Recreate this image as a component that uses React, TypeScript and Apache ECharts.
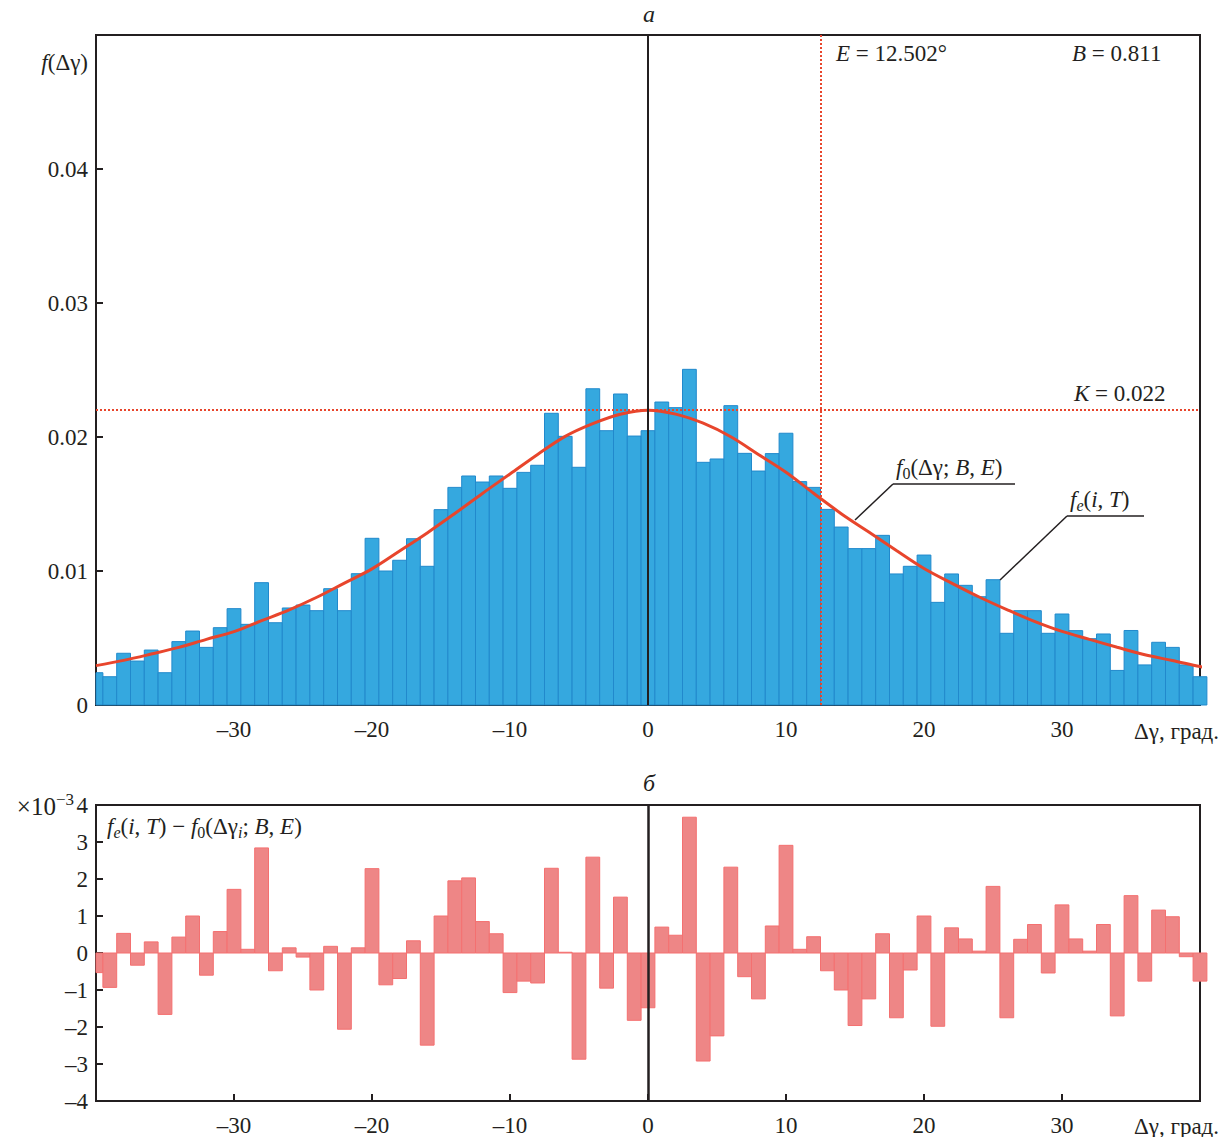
import React, { useEffect, useRef } from "react";
import * as echarts from "echarts";

const FONT = '"Liberation Serif", "Times New Roman", serif';
const INK = "#231f20";
const RED = "#e8452c";
const BLUE = "#35a8df";
const BLUE_EDGE = "#2189cc";
const PINK = "#ee8686";
const PINK_EDGE = "#f47070";

const bins = [
  -40, -39, -38, -37, -36, -35, -34, -33, -32, -31, -30, -29, -28, -27, -26, -25, -24, -23, -22, -21,
  -20, -19, -18, -17, -16, -15, -14, -13, -12, -11, -10, -9, -8, -7, -6, -5, -4, -3, -2, -1,
  0, 1, 2, 3, 4, 5, 6, 7, 8, 9, 10, 11, 12, 13, 14, 15, 16, 17, 18, 19,
  20, 21, 22, 23, 24, 25, 26, 27, 28, 29, 30, 31, 32, 33, 34, 35, 36, 37, 38, 39, 40,
];

const histValues = [
  0.00241, 0.00211, 0.00386, 0.00328, 0.0041, 0.00241, 0.00473, 0.00552, 0.0043, 0.00577,
  0.00719, 0.00602, 0.00913, 0.00614, 0.00724, 0.00746, 0.00704, 0.00868, 0.00704, 0.0098,
  0.01244, 0.0100, 0.0108, 0.01241, 0.01035, 0.01458, 0.01624, 0.01709, 0.01664, 0.01709,
  0.01617, 0.01736, 0.01789, 0.02177, 0.02005, 0.01774, 0.0236, 0.02047, 0.02321, 0.02007,
  0.02047, 0.02261, 0.02219, 0.02505, 0.01811, 0.01836, 0.02234, 0.01878, 0.01746, 0.01876,
  0.02028, 0.01667, 0.01624, 0.0146, 0.01328, 0.01167, 0.01167, 0.01266, 0.00978, 0.01035,
  0.01119, 0.00766, 0.00978, 0.00893, 0.00808, 0.00935, 0.00535, 0.00704, 0.00704, 0.00535,
  0.00679, 0.00555, 0.00495, 0.0053, 0.00258, 0.00556, 0.00299, 0.00468, 0.0043, 0.00299, 0.00211,
];

// residuals, units of 1e-3
const residValues = [
  -0.53, -0.93, 0.53, -0.33, 0.3, -1.66, 0.43, 1.0, -0.6, 0.58,
  1.72, 0.1, 2.84, -0.48, 0.14, -0.11, -1.0, 0.18, -2.06, 0.14,
  2.28, -0.86, -0.69, 0.33, -2.49, 1.0, 1.95, 2.03, 0.85, 0.52,
  -1.07, -0.76, -0.81, 2.29, 0.02, -2.87, 2.59, -0.95, 1.51, -1.82,
  -1.48, 0.7, 0.48, 3.67, -2.92, -2.24, 2.32, -0.64, -1.24, 0.73,
  2.91, 0.1, 0.44, -0.48, -1.0, -1.96, -1.24, 0.52, -1.75, -0.46,
  1.0, -1.98, 0.68, 0.38, 0.05, 1.8, -1.75, 0.37, 0.77, -0.54,
  1.3, 0.38, 0.05, 0.77, -1.7, 1.55, -0.76, 1.16, 0.98, -0.1, -0.76,
];

const curveX = [
  -40, -38, -36, -34, -32, -30, -28, -26, -24, -22, -20, -18, -16, -14, -12, -10, -8, -6, -4, -2,
  0, 2, 4, 6, 8, 10, 12, 14, 16, 18, 20, 22, 24, 26, 28, 30, 32, 34, 36, 38, 40, 40.6,
];
const curveY = [
  0.00294, 0.00333, 0.0038, 0.0043, 0.0049, 0.00547, 0.00629, 0.0071, 0.00804, 0.0091,
  0.01016, 0.01149, 0.01284, 0.01429, 0.01579, 0.01724, 0.0187, 0.02005, 0.021, 0.0217,
  0.022, 0.02171, 0.02103, 0.02002, 0.0187, 0.01737, 0.0158, 0.01428, 0.01291, 0.01153,
  0.01019, 0.0091, 0.00806, 0.00712, 0.00624, 0.00549, 0.0049, 0.00431, 0.00375, 0.00332,
  0.00287, 0.00276,
];

const K_VALUE = 0.022;
const E_VALUE = 12.502;
const X_MIN = -40;
const X_MAX = 40;

const fmtX = (v: number) => {
  if (v <= X_MIN || v >= X_MAX) return "";
  return v < 0 ? "\u2013" + -v : String(v);
};

const rich = {
  n: { fontFamily: FONT, fontSize: 23, color: INK, lineHeight: 28 },
  i: { fontFamily: FONT, fontSize: 23, fontStyle: "italic", color: INK, lineHeight: 28 },
  big: { fontFamily: FONT, fontSize: 25, color: INK, lineHeight: 30 },
  sub: { fontFamily: FONT, fontSize: 16, color: INK, lineHeight: 16, verticalAlign: "bottom" },
  isub: { fontFamily: FONT, fontSize: 16, fontStyle: "italic", color: INK, lineHeight: 16, verticalAlign: "bottom" },
  sup: { fontFamily: FONT, fontSize: 17, color: INK, lineHeight: 17, verticalAlign: "top" },
};

function txt(x: number, y: number, text: string, align = "left") {
  return {
    type: "text",
    x,
    y,
    z: 100,
    style: { text, rich, align, verticalAlign: "middle", fill: INK, font: `23px ${FONT}` },
  };
}

function seg(x1: number, y1: number, x2: number, y2: number) {
  return {
    type: "line",
    z: 100,
    shape: { x1, y1, x2, y2 },
    style: { stroke: INK, lineWidth: 1.5 },
  };
}

export default function App() {
  const ref = useRef<HTMLDivElement>(null);

  useEffect(() => {
    if (!ref.current) return;
    const chart = echarts.init(ref.current, undefined, { renderer: "svg" });

    const barRender = (fill: string, stroke: string) => (params: any, api: any) => {
      const x = api.value(0);
      const v = api.value(1);
      const left = Math.max(x - 0.5, X_MIN);
      const p1 = api.coord([left, v]);
      const p0 = api.coord([x + 0.5, 0]);
      const top = Math.min(p1[1], p0[1]);
      const h = Math.abs(p0[1] - p1[1]);
      return {
        type: "rect",
        shape: { x: p1[0], y: top, width: p0[0] - p1[0], height: h },
        style: { fill, stroke, lineWidth: 1 },
      };
    };

    const axisCommon = {
      axisLine: { show: true, onZero: false, lineStyle: { color: INK, width: 2 } },
      axisTick: { show: true, inside: true, length: 7, lineStyle: { color: INK, width: 2 } },
      splitLine: { show: false },
    };

    const option: any = {
      animation: false,
      backgroundColor: "#ffffff",
      grid: [
        { left: 96, top: 35, width: 1104, height: 670, show: true, borderColor: INK, borderWidth: 2, backgroundColor: "transparent" },
        { left: 96, top: 805, width: 1104, height: 300, show: true, borderColor: INK, borderWidth: 2, backgroundColor: "transparent" },
      ],
      xAxis: [0, 1].map((g) => ({
        gridIndex: g,
        type: "value",
        min: X_MIN,
        max: X_MAX,
        interval: 10,
        ...axisCommon,
        axisLabel: { formatter: fmtX, fontFamily: FONT, fontSize: 23, color: INK, margin: 13 },
      })),
      yAxis: [
        {
          gridIndex: 0,
          type: "value",
          min: 0,
          max: 0.05,
          interval: 0.01,
          ...axisCommon,
          axisLabel: {
            formatter: (v: number) => (v > 0.0499 ? "" : v === 0 ? "0" : v.toFixed(2)),
            fontFamily: FONT,
            fontSize: 23,
            color: INK,
            margin: 8,
          },
        },
        {
          gridIndex: 1,
          type: "value",
          min: -4,
          max: 4,
          interval: 1,
          ...axisCommon,
          axisLabel: {
            formatter: (v: number) => (v < 0 ? "\u2013" + -v : String(v)),
            fontFamily: FONT,
            fontSize: 23,
            color: INK,
            margin: 8,
          },
        },
      ],
      series: [
        {
          type: "line",
          xAxisIndex: 0,
          yAxisIndex: 0,
          z: 1,
          data: [[X_MIN, 0]],
          symbol: "none",
          lineStyle: { opacity: 0 },
          markLine: {
            silent: true,
            symbol: "none",
            precision: 5,
            label: { show: false },
            lineStyle: { color: RED, type: [2, 2], width: 2 },
            data: [{ yAxis: K_VALUE }, { xAxis: E_VALUE }],
          },
        },
        {
          type: "custom",
          xAxisIndex: 0,
          yAxisIndex: 0,
          z: 2,
          clip: false,
          renderItem: barRender(BLUE, BLUE_EDGE),
          encode: { x: 0, y: 1 },
          data: bins.map((x, i) => [x, histValues[i]]),
        },
        {
          type: "line",
          xAxisIndex: 0,
          yAxisIndex: 0,
          z: 3,
          clip: false,
          smooth: 0.35,
          symbol: "none",
          lineStyle: { color: RED, width: 3 },
          data: curveX.map((x, i) => [x, curveY[i]]),
        },
        {
          type: "line",
          xAxisIndex: 0,
          yAxisIndex: 0,
          z: 4,
          data: [[X_MIN, 0]],
          symbol: "none",
          lineStyle: { opacity: 0 },
          markLine: {
            silent: true,
            symbol: "none",
            precision: 5,
            label: { show: false },
            lineStyle: { color: INK, type: "solid", width: 2 },
            data: [{ xAxis: 0 }],
          },
        },
        {
          type: "custom",
          xAxisIndex: 1,
          yAxisIndex: 1,
          z: 2,
          clip: false,
          renderItem: barRender(PINK, PINK_EDGE),
          encode: { x: 0, y: 1 },
          data: bins.map((x, i) => [x, residValues[i]]),
        },
        {
          type: "line",
          xAxisIndex: 1,
          yAxisIndex: 1,
          z: 4,
          data: [[X_MIN, 0]],
          symbol: "none",
          lineStyle: { opacity: 0 },
          markLine: {
            silent: true,
            symbol: "none",
            precision: 5,
            label: { show: false },
            lineStyle: { color: INK, type: "solid", width: 2.5 },
            data: [
              { xAxis: 0 },
              [{ coord: [X_MIN, 0] }, { coord: [40.6, 0] }],
            ],
          },
        },
      ],
      graphic: [
        { type: "text", x: 649, y: 14, z: 100, style: { text: "a", font: `italic 24px ${FONT}`, fill: INK, align: "center", verticalAlign: "middle" } },
        { type: "text", x: 649, y: 783, z: 100, style: { text: "б", font: `italic 24px ${FONT}`, fill: INK, align: "center", verticalAlign: "middle" } },
        txt(88, 62, "{i|f}{n|(Δγ)}", "right"),
        txt(836, 53, "{i|E}{n| = 12.502°}"),
        txt(1072, 53, "{i|B}{n| = 0.811}"),
        txt(1074, 393, "{i|K}{n| = 0.022}"),
        txt(896, 467, "{i|f}{sub|0}{n|(Δγ; }{i|B}{n|, }{i|E}{n|)}"),
        seg(893, 484, 1015, 484),
        seg(893, 484, 855, 520),
        txt(1070, 499, "{i|f}{isub|e}{n|(}{i|i}{n|, }{i|T}{n|)}"),
        seg(1067, 516, 1144, 516),
        seg(1067, 516, 1000, 580),
        txt(1134, 731, "{n|Δγ, град.}"),
        txt(1134, 1126, "{n|Δγ, град.}"),
        txt(74, 806, "{big|×10}{sup|−3}", "right"),
        txt(107, 826, "{i|f}{isub|e}{n|(}{i|i}{n|, }{i|T}{n|) − }{i|f}{sub|0}{n|(Δγ}{isub|i}{n|; }{i|B}{n|, }{i|E}{n|)}"),
      ],
    };

    chart.setOption(option);
    return () => chart.dispose();
  }, []);

  return (
    <div
      ref={ref}
      style={{ position: "absolute", left: 0, top: 0, width: 1230, height: 1137, background: "#fff" }}
    />
  );
}
